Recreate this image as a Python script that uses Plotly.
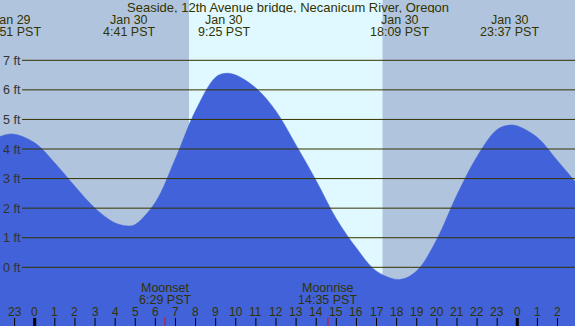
import plotly.graph_objects as go

# ---- data ----
title = "Seaside, 12th Avenue bridge, Necanicum River, Oregon"

# tide curve (hours relative to Jan 30 00:00 PST, feet)
tide_hours = [-2, -1.15, 0, 1, 2, 3, 4, 4.65, 5, 6, 7, 8, 9, 9.5, 10, 11, 12, 13, 14,
              15, 16, 17, 18.15, 19, 20, 21, 22, 23, 23.62, 24, 25, 26, 27]
tide_ft = [4.34, 4.51, 4.21, 3.53, 2.74, 2.0, 1.50, 1.40, 1.45, 2.2, 3.68, 5.3, 6.43, 6.56,
           6.50, 6.06, 5.28, 4.13, 2.93, 1.64, 0.65, -0.13, -0.41, -0.12, 0.95, 2.45, 3.75,
           4.66, 4.81, 4.78, 4.39, 3.6, 2.8]

# high / low tide event labels
event_hours = [-1.15, 4.683, 9.417, 18.15, 23.617]
event_dates = ["Jan 29", "Jan 30", "Jan 30", "Jan 30", "Jan 30"]
event_times = ["22:51 PST", "4:41 PST", "9:25 PST", "18:09 PST", "23:37 PST"]

# sun (daylight band)
sunrise_h = 7.673
sunset_h = 17.30

# moon events
moon_hours = [6.483, 14.583]
moon_names = ["Moonset", "Moonrise"]
moon_times = ["6:29 PST", "14:35 PST"]

# axes
ft_levels = [0, 1, 2, 3, 4, 5, 6, 7]
ft_labels = ["0 ft", "1 ft", "2 ft", "3 ft", "4 ft", "5 ft", "6 ft", "7 ft"]
hour_ticks = list(range(-2, 27))

# ---- styling ----
W, H = 575, 326
NIGHT = "#b0c4de"
DAY = "#e0f8ff"
WATER = "#4162d8"
INK = "#333300"
FONT = "Liberation Sans, Arial, sans-serif"

X_RANGE = [-1.7257, 26.870]
Y_RANGE = [-1.985, 9.039]


def py(px):
    return 1 - px / H


fig = go.Figure()
base = [Y_RANGE[0] - 1] * len(tide_hours)
fig.add_trace(go.Scatter(x=tide_hours, y=base, mode="lines", line=dict(width=0),
                         hoverinfo="skip", showlegend=False))
fig.add_trace(go.Scatter(x=tide_hours, y=tide_ft, mode="lines", fill="tonexty",
                         fillcolor=WATER, line=dict(color=WATER, width=0.5, shape="spline",
                                                    smoothing=1.0),
                         hoverinfo="skip", showlegend=False))

shapes = []
shapes.append(dict(type="rect", xref="x", yref="paper", x0=sunrise_h, x1=sunset_h,
                   y0=0, y1=1, fillcolor=DAY, line=dict(width=0), layer="below"))
for lv in ft_levels:
    shapes.append(dict(type="line", xref="paper", yref="y", x0=22 / W, x1=1, y0=lv, y1=lv,
                       line=dict(color=INK, width=1), layer="above"))
for h in hour_ticks:
    wdt = 3 if h % 24 == 0 else 1
    shapes.append(dict(type="line", xref="x", yref="paper", x0=h, x1=h, y0=0, y1=8 / H,
                       line=dict(color="#000000", width=wdt), layer="above"))
for mh in moon_hours:
    shapes.append(dict(type="line", xref="x", yref="paper", x0=mh, x1=mh, y0=0, y1=8.5 / H,
                       line=dict(color="#ff0000", width=1), layer="above"))

ann = []
font = dict(family=FONT, size=12.5, color=INK)


def label(text, x, ypx, xref="x", xanchor="center", f=font):
    ann.append(dict(text=text, xref=xref, yref="paper", x=x, y=py(ypx), xanchor=xanchor,
                    yanchor="middle", showarrow=False, font=f, height=11,
                    borderpad=0))


label(title, 0.5, 7.3, xref="paper", f=dict(family=FONT, size=13, color=INK))
for h, d, t in zip(event_hours, event_dates, event_times):
    label(d, h, 19.8)
    label(t, h, 31.5)
for h, n, t in zip(moon_hours, moon_names, moon_times):
    label(n, h, 287.5)
    label(t, h, 299.5)
for lv, lab in zip(ft_levels, ft_labels):
    ann.append(dict(text=lab, xref="paper", yref="y", x=2 / W, y=lv, xanchor="left",
                    yanchor="middle", showarrow=False, height=11, borderpad=0,
                    font=dict(family=FONT, size=12.5, color="#333333")))
for h in hour_ticks:
    if X_RANGE[0] < h < X_RANGE[1]:
        label(str(h % 24), h, 311.7, f=dict(family=FONT, size=12, color=INK))

fig.update_layout(
    width=W, height=H, autosize=False,
    margin=dict(l=0, r=0, t=0, b=0, pad=0),
    paper_bgcolor=NIGHT, plot_bgcolor=NIGHT,
    shapes=shapes, annotations=ann, showlegend=False,
    xaxis=dict(range=X_RANGE, showgrid=False, zeroline=False, showticklabels=False,
               ticks="", showline=False, fixedrange=True),
    yaxis=dict(range=Y_RANGE, showgrid=False, zeroline=False, showticklabels=False,
               ticks="", showline=False, fixedrange=True),
)

fig.write_html("out.html", config=dict(displayModeBar=False),
               post_script="document.body.style.margin='0';document.body.style.overflow='hidden';")
